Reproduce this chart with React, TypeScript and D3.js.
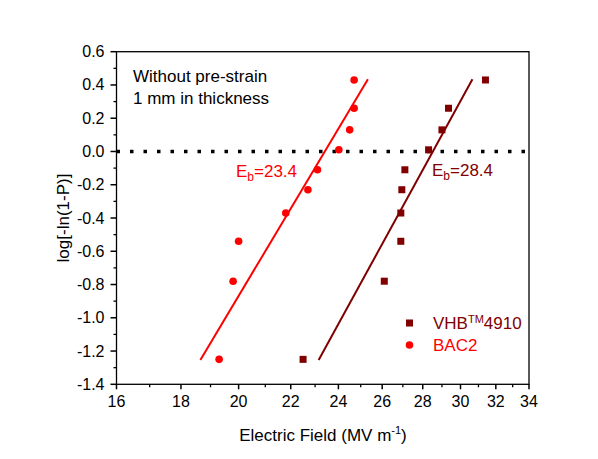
import React from "react";
import * as d3 from "d3";

const vhbE = [31.4, 29.35, 29.0, 28.3, 27.1, 26.95, 26.9, 26.9, 26.1, 22.5];
const vhbY = [0.43, 0.26, 0.13, 0.01, -0.11, -0.23, -0.37, -0.54, -0.78, -1.25];
const bacE = [24.7, 24.7, 24.5, 24.02, 23.1, 22.7, 21.8, 20.0, 19.8, 19.3];
const bacY = [0.43, 0.26, 0.13, 0.01, -0.11, -0.23, -0.37, -0.54, -0.78, -1.25];
const fitBacE = [18.65, 25.33];
const fitVhbE = [23.15, 30.66];
const fitY = [-1.254, 0.434];
const xTicks = [16, 18, 20, 22, 24, 26, 28, 30, 32, 34];
const xMinor = [17, 19, 21, 23, 25, 27, 29, 31, 33];
const yTicks = [0.6, 0.4, 0.2, 0.0, -0.2, -0.4, -0.6, -0.8, -1.0, -1.2, -1.4];
const yMinor = [0.5, 0.3, 0.1, -0.1, -0.3, -0.5, -0.7, -0.9, -1.1, -1.3];

const RED = "#ff0000";
const DARK = "#800000";
const FONT = "'Liberation Sans', Arial, sans-serif";

export default function App() {
  const L = 116.5, R = 529, T = 51.7, B = 384.3;
  const x = d3.scaleLog().domain([16, 34]).range([L, R]);
  const y = d3.scaleLinear().domain([-1.4, 0.6]).range([B, T]);
  const line = d3
    .line<[number, number]>()
    .x((d) => x(d[0]))
    .y((d) => y(d[1]));
  const bacFit: [number, number][] = fitBacE.map((e, i) => [e, fitY[i]]);
  const vhbFit: [number, number][] = fitVhbE.map((e, i) => [e, fitY[i]]);
  return (
    <svg
      width={598}
      height={459}
      style={{ position: "absolute", left: 0, top: 0, background: "#fff" }}
      fontFamily={FONT}
    >
      {/* frame */}
      <rect x={L} y={T} width={R - L} height={B - T} fill="none" stroke="#000" strokeWidth={1.3} />
      {/* zero dotted line */}
      <line
        x1={L}
        x2={R}
        y1={y(0)}
        y2={y(0)}
        stroke="#000"
        strokeWidth={3.5}
        strokeDasharray="3.5 10"
      />
      {/* x ticks */}
      {xTicks.map((t) => (
        <g key={"xt" + t}>
          <line x1={x(t)} x2={x(t)} y1={B} y2={B + 5} stroke="#000" strokeWidth={1.5} />
          <text x={x(t)} y={B + 23} textAnchor="middle" fontSize={16} fill="#000">
            {t}
          </text>
        </g>
      ))}
      {xMinor.map((t) => (
        <line key={"xm" + t} x1={x(t)} x2={x(t)} y1={B} y2={B + 3} stroke="#000" strokeWidth={1.3} />
      ))}
      {/* y ticks */}
      {yTicks.map((t) => (
        <g key={"yt" + t}>
          <line x1={L - 6} x2={L} y1={y(t)} y2={y(t)} stroke="#000" strokeWidth={1.5} />
          <text x={L - 12} y={y(t) + 5.5} textAnchor="end" fontSize={16} fill="#000">
            {t.toFixed(1)}
          </text>
        </g>
      ))}
      {yMinor.map((t) => (
        <line key={"ym" + t} x1={L - 3} x2={L} y1={y(t)} y2={y(t)} stroke="#000" strokeWidth={1.3} />
      ))}
      {/* axis titles */}
      <text x={323} y={441} textAnchor="middle" fontSize={17} fill="#000">
        Electric Field (MV m
        <tspan dy={-7} fontSize={11}>-1</tspan>
        <tspan dy={7}>)</tspan>
      </text>
      <text
        transform={`translate(69,${(T + B) / 2}) rotate(-90)`}
        textAnchor="middle"
        fontSize={17}
        fill="#000"
      >
        log[-ln(1-P)]
      </text>
      {/* fit lines */}
      <path d={line(bacFit) || ""} stroke={RED} strokeWidth={2} fill="none" />
      <path d={line(vhbFit) || ""} stroke={DARK} strokeWidth={2} fill="none" />
      {/* points */}
      {bacE.map((e, i) => (
        <circle key={"b" + i} cx={x(e)} cy={y(bacY[i])} r={3.8} fill={RED} />
      ))}
      {vhbE.map((e, i) => (
        <rect
          key={"v" + i}
          x={x(e) - 3.5}
          y={y(vhbY[i]) - 3.5}
          width={7}
          height={7}
          fill={DARK}
        />
      ))}
      {/* annotations */}
      <text x={133} y={82} fontSize={17} fill="#000">
        Without pre-strain
      </text>
      <text x={133} y={104} fontSize={17} fill="#000">
        1 mm in thickness
      </text>
      <text x={236} y={177} fontSize={17} fill={RED}>
        E<tspan dy={4} fontSize={12}>b</tspan>
        <tspan dy={-4}>=23.4</tspan>
      </text>
      <text x={432} y={176} fontSize={17} fill={DARK}>
        E<tspan dy={4} fontSize={12}>b</tspan>
        <tspan dy={-4}>=28.4</tspan>
      </text>
      {/* legend */}
      <rect x={406} y={319.5} width={7} height={7} fill={DARK} />
      <text x={433} y={329} fontSize={17} fill={DARK}>
        VHB<tspan dy={-6} fontSize={11}>TM</tspan>
        <tspan dy={6}>4910</tspan>
      </text>
      <circle cx={409.5} cy={345} r={3.8} fill={RED} />
      <text x={433} y={351} fontSize={17} fill={RED}>
        BAC2
      </text>
    </svg>
  );
}
